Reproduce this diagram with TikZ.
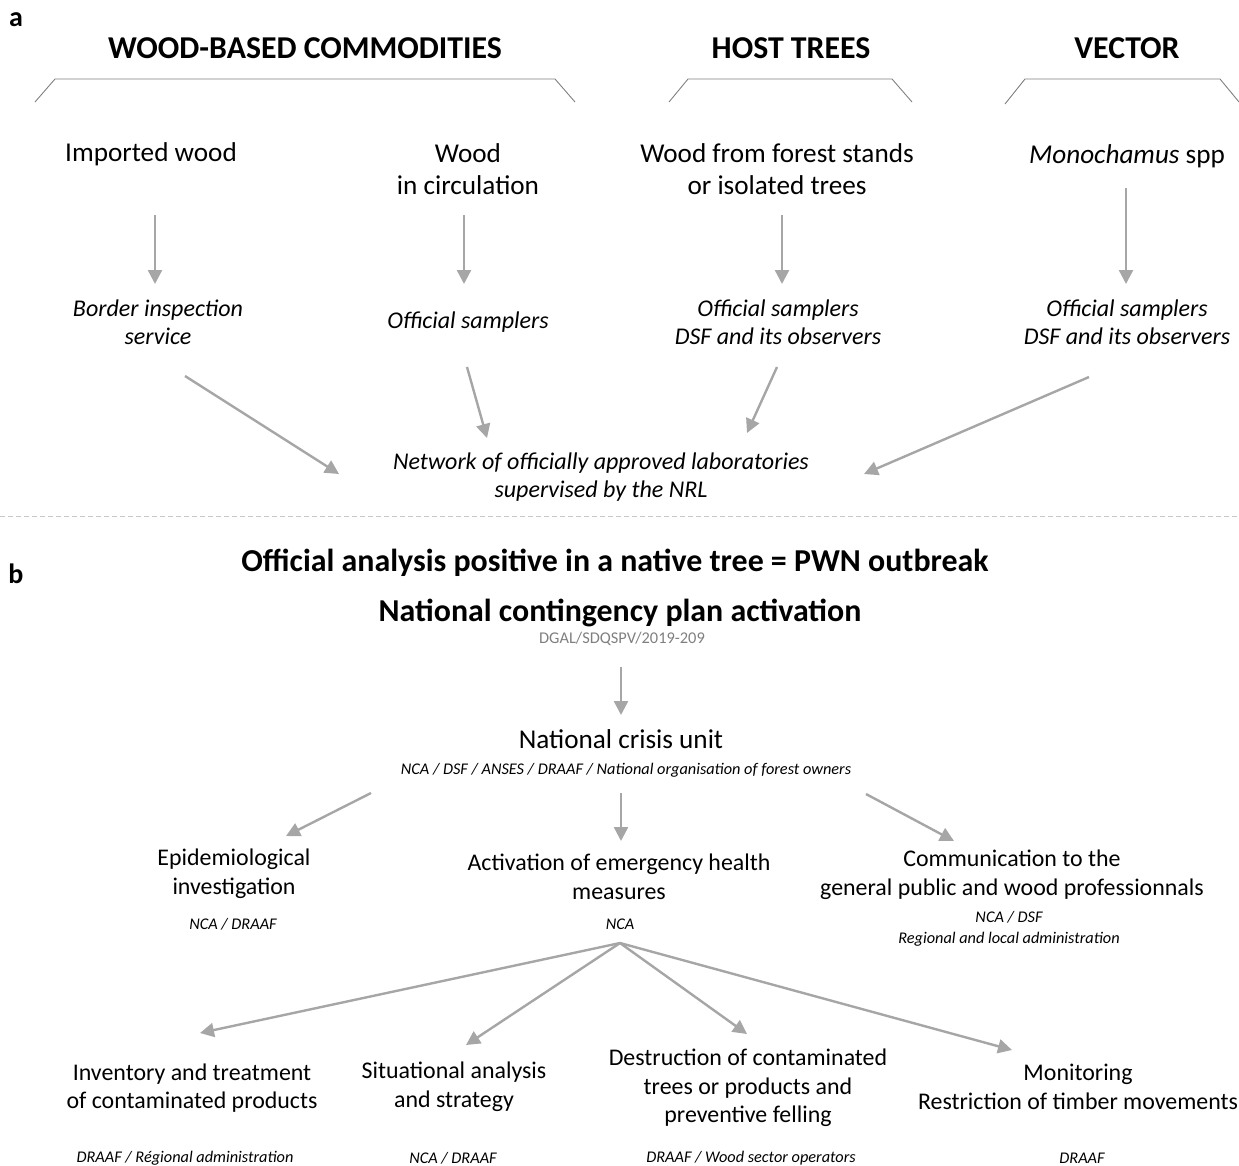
\documentclass[tikz,border=0pt]{standalone}
\usepackage{fontspec}
\setmainfont{Carlito}
\usetikzlibrary{arrows.meta}
\definecolor{arr}{HTML}{A6A6A6}
\definecolor{brk}{HTML}{808080}
\definecolor{sep}{HTML}{C8C8C8}
\definecolor{ref}{HTML}{7F7F7F}
\tikzset{
  head/.style={font=\fontsize{31.8}{37}\selectfont\bfseries},
  letter/.style={font=\fontsize{28}{32}\selectfont\bfseries},
  big/.style={font=\fontsize{31.9}{37}\selectfont\bfseries},
  txt/.style={font=\fontsize{27.2}{31.5}\selectfont, align=center, inner sep=0pt},
  txtb/.style={font=\fontsize{23.9}{28.7}\selectfont, align=center, inner sep=0pt},
  itx/.style={font=\fontsize{24}{28}\selectfont\itshape, align=center, inner sep=0pt},
  sml/.style={font=\fontsize{16.3}{21}\selectfont\itshape, align=center, inner sep=0pt},
  bracket/.style={draw=brk, line width=0.9pt},
  conn/.style={draw=arr, line width=2.4pt, -{Triangle[length=14pt,width=14pt]}},
}
\begin{document}
\begin{tikzpicture}[x=1pt,y=-1pt]
\useasboundingbox (0,0) rectangle (1239,1165);
% ---------------- part a
\node[letter] (la) at (16,20) {a};
\node[head] (h1) at (305,48) {WOOD-BASED COMMODITIES};
\node[head] (h2) at (791,48) {HOST TREES};
\node[head] (h3) at (1127,48) {VECTOR};
\draw[bracket] (35,102) -- (55,79) -- (555,79) -- (575,102);
\draw[bracket] (669,102) -- (688,79) -- (892,79) -- (912,102);
\draw[bracket] (1005,104) -- (1025,79) -- (1220,79) -- (1239,102);

\node[txt] (s1) at (151,154) {Imported wood};
\node[txt] (s2) at (468,169) {Wood\\in circulation};
\node[txt] (s3) at (777,169) {Wood from forest stands\\or isolated trees};
\node[txt] (s4) at (1127,156) {\textit{Monochamus} spp};

\node[itx] (o1) at (158,322) {Border inspection\\service};
\node[itx] (o2) at (468,322) {Official samplers};
\node[itx] (o3) at (778,322) {Official samplers\\DSF and its observers};
\node[itx] (o4) at (1127,322) {Official samplers\\DSF and its observers};

\coordinate (a1s) at (155,215); \coordinate (a1e) at (155,284);
\coordinate (a2s) at (464,215); \coordinate (a2e) at (464,284);
\coordinate (a3s) at (782,215); \coordinate (a3e) at (782,284);
\coordinate (a4s) at (1126,188); \coordinate (a4e) at (1126,284);
\draw[conn] (a1s) -- (a1e);
\draw[conn] (a2s) -- (a2e);
\draw[conn] (a3s) -- (a3e);
\draw[conn] (a4s) -- (a4e);

\node[itx] (lab) at (601,477) {Network of officially approved laboratories\\supervised by the NRL};
\coordinate (b1s) at (185,376); \coordinate (b1e) at (339,474);
\coordinate (b2s) at (467,367); \coordinate (b2e) at (487,438);
\coordinate (b3s) at (777,367); \coordinate (b3e) at (747,433);
\coordinate (b4s) at (1089,377); \coordinate (b4e) at (864,474);
\draw[conn] (b1s) -- (b1e);
\draw[conn] (b2s) -- (b2e);
\draw[conn] (b3s) -- (b3e);
\draw[conn] (b4s) -- (b4e);

\coordinate (sepl) at (0,516); \coordinate (sepr) at (1239,516);
\draw[sep, dashed, line width=0.9pt, dash pattern=on 5pt off 3pt] (sepl) -- (sepr);

% ---------------- part b
\node[letter] (lb) at (16,574) {b};
\node[big] (t1) at (615,563) {Official analysis positive in a native tree = PWN outbreak};
\node[big] (t2) at (620,613) {National contingency plan activation};
\node[font=\fontsize{16.4}{19}\selectfont, text=ref, inner sep=0pt] (ref) at (622,639) {DGAL/SDQSPV/2019-209};

\coordinate (c0s) at (621,667); \coordinate (c0e) at (621,715);
\draw[conn] (c0s) -- (c0e);

\node[txt] (ncu) at (621,739) {National crisis unit};
\node[sml] (ncuo) at (626,770) {NCA / DSF / ANSES / DRAAF / National organisation of forest owners};

\coordinate (c1s) at (371,793); \coordinate (c1e) at (286,836);
\coordinate (c2s) at (621,793); \coordinate (c2e) at (621,841);
\coordinate (c3s) at (866,794); \coordinate (c3e) at (954,841);
\draw[conn] (c1s) -- (c1e);
\draw[conn] (c2s) -- (c2e);
\draw[conn] (c3s) -- (c3e);

\node[txtb] (epi) at (234,874) {Epidemiological\\investigation};
\node[sml] (epio) at (233,924) {NCA / DRAAF};
\node[txtb] (act) at (619,877) {Activation of emergency health\\measures};
\node[sml] (acto) at (620,924) {NCA};
\node[txtb] (com) at (1012,875) {Communication to the\\general public and wood professionnals};
\node[sml] (como) at (1009,929) {NCA / DSF\\Regional and local administration};

\coordinate (hub) at (620,943);
\coordinate (d1e) at (200,1033);
\coordinate (d2e) at (466,1045);
\coordinate (d3e) at (747,1034);
\coordinate (d4e) at (1012,1050);
\draw[conn] (hub) -- (d1e);
\draw[conn] (hub) -- (d2e);
\draw[conn] (hub) -- (d3e);
\draw[conn] (hub) -- (d4e);

\node[txtb] (inv) at (192,1088) {Inventory and treatment\\of contaminated products};
\node[txtb] (sit) at (454,1087) {Situational analysis\\and strategy};
\node[txtb] (des) at (748,1088) {Destruction of contaminated\\trees or products and\\preventive felling};
\node[txtb] (mon) at (1078,1087) {Monitoring\\Restriction of timber movements};

\node[sml] (invo) at (185,1158) {DRAAF / Régional administration};
\node[sml] (sito) at (453,1158) {NCA / DRAAF};
\node[sml] (deso) at (751,1158) {DRAAF / Wood sector operators};
\node[sml] (mono) at (1082,1158) {DRAAF};
\end{tikzpicture}
\end{document}
